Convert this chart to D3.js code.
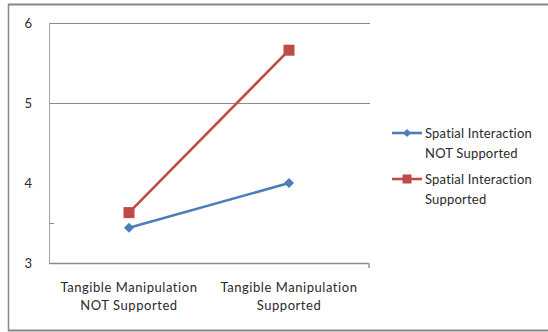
<!DOCTYPE html>
<html>
<head>
<meta charset="utf-8">
<script src="https://cdn.jsdelivr.net/npm/d3@7"></script>
<style>
  html, body { margin: 0; padding: 0; background: #fff; }
  svg { display: block; }
  text { font-family: Lato, "Open Sans", sans-serif; fill: #2a2a2a; }
</style>
</head>
<body>
<script>
// Interaction study: mean scores by condition
const categories = [
  ["Tangible Manipulation", "NOT Supported"],
  ["Tangible Manipulation", "Supported"]
];
const seriesNames = [
  ["Spatial Interaction", "NOT Supported"],
  ["Spatial Interaction", "Supported"]
];
const spatialNotSupported = [3.44, 4.00];
const spatialSupported = [3.63, 5.66];
const yTickLabels = [3, 4, 5, 6];
const gridValues = [5, 6];
const minorTicks = [3.5];

const W = 548, H = 332;
const svg = d3.select("body").append("svg").attr("width", W).attr("height", H);

// outer frame (top, left, bottom edges)
const frame = "#878787";
svg.append("line").attr("x1", 8).attr("x2", W).attr("y1", 4.5).attr("y2", 4.5)
  .attr("stroke", frame).attr("stroke-width", 2);
svg.append("line").attr("x1", 8.5).attr("x2", 8.5).attr("y1", 4).attr("y2", 331)
  .attr("stroke", frame).attr("stroke-width", 1.5);
svg.append("line").attr("x1", 8).attr("x2", W).attr("y1", 330.5).attr("y2", 330.5)
  .attr("stroke", frame).attr("stroke-width", 2);

const plot = { left: 49, right: 369, top: 23, bottom: 263 };

const x = d3.scaleBand().domain(d3.range(categories.length))
  .range([plot.left, plot.right]).padding(0);
const y = d3.scaleLinear().domain([3, 6]).range([plot.bottom, plot.top]);
const cx = i => x(i) + x.bandwidth() / 2;

// horizontal gridlines
svg.append("g").selectAll("line").data(gridValues).join("line")
  .attr("x1", plot.left).attr("x2", plot.right + 1)
  .attr("y1", d => Math.round(y(d)) + 0.5).attr("y2", d => Math.round(y(d)) + 0.5)
  .attr("stroke", "#8a8a8a").attr("stroke-width", 1);

// value axis
svg.append("line").attr("x1", plot.left + 0.5).attr("x2", plot.left + 0.5)
  .attr("y1", plot.top).attr("y2", plot.bottom)
  .attr("stroke", "#a6a6a6").attr("stroke-width", 1);
svg.append("g").selectAll("line").data(minorTicks).join("line")
  .attr("x1", plot.left).attr("x2", plot.left + 5)
  .attr("y1", d => Math.round(y(d)) + 0.5).attr("y2", d => Math.round(y(d)) + 0.5)
  .attr("stroke", "#8a8a8a");
svg.append("g").selectAll("text").data(yTickLabels).join("text")
  .attr("x", 32).attr("y", d => y(d)).attr("dy", "0.35em")
  .attr("text-anchor", "end").attr("font-size", 13)
  .text(d => d);

// category axis
svg.append("line").attr("x1", plot.left).attr("x2", plot.right)
  .attr("y1", plot.bottom + 0.5).attr("y2", plot.bottom + 0.5)
  .attr("stroke", "#8a8a8a").attr("stroke-width", 1.5);
svg.append("rect").attr("x", plot.right - 1).attr("y", plot.bottom)
  .attr("width", 2).attr("height", 5).attr("fill", "#b0b0b0");

const catLabels = svg.append("g").selectAll("text").data(categories).join("text")
  .attr("text-anchor", "middle").attr("font-size", 13)
  .attr("letter-spacing", 0.55);
catLabels.selectAll("tspan").data((d, i) => d.map(s => ({ s, i }))).join("tspan")
  .attr("x", d => cx(d.i))
  .attr("y", (d, j) => 287 + j * 18)
  .attr("dy", "0.35em")
  .text(d => d.s);

// series
const series = [
  { name: seriesNames[0], values: spatialNotSupported, color: "#4A7EBB", marker: "diamond" },
  { name: seriesNames[1], values: spatialSupported, color: "#BE4B48", marker: "square" }
];

const line = d3.line().x((d, i) => cx(i)).y(d => y(d));

function drawMarker(g, type, color) {
  if (type === "square") {
    g.append("rect").attr("x", -5.5).attr("y", -5.5).attr("width", 11).attr("height", 11)
      .attr("fill", color);
  } else {
    g.append("path").attr("d", "M0,-5L5,0L0,5L-5,0Z").attr("fill", color);
  }
}

series.forEach(s => {
  svg.append("path").datum(s.values).attr("d", line)
    .attr("fill", "none").attr("stroke", s.color).attr("stroke-width", 2.6);
  s.values.forEach((v, i) => {
    const g = svg.append("g").attr("transform", `translate(${cx(i)},${y(v)})`);
    drawMarker(g, s.marker, s.color);
  });
});

// legend
const legendY = [133, 179];
series.forEach((s, k) => {
  const ly = legendY[k];
  const g = svg.append("g");
  g.append("line").attr("x1", 392).attr("x2", 422).attr("y1", ly).attr("y2", ly)
    .attr("stroke", s.color).attr("stroke-width", 2.6);
  const m = g.append("g").attr("transform", `translate(407,${ly})`);
  if (s.marker === "square") {
    m.append("rect").attr("x", -4.5).attr("y", -4.5).attr("width", 9).attr("height", 9).attr("fill", s.color);
  } else {
    m.append("path").attr("d", "M0,-4L4,0L0,4L-4,0Z").attr("fill", s.color);
  }
  const t = g.append("text").attr("font-size", 13).attr("letter-spacing", 0.2);
  s.name.forEach((line, j) => {
    t.append("tspan").attr("x", 425).attr("y", ly + j * 20).attr("dy", "0.35em").text(line);
  });
});
</script>
</body>
</html>
